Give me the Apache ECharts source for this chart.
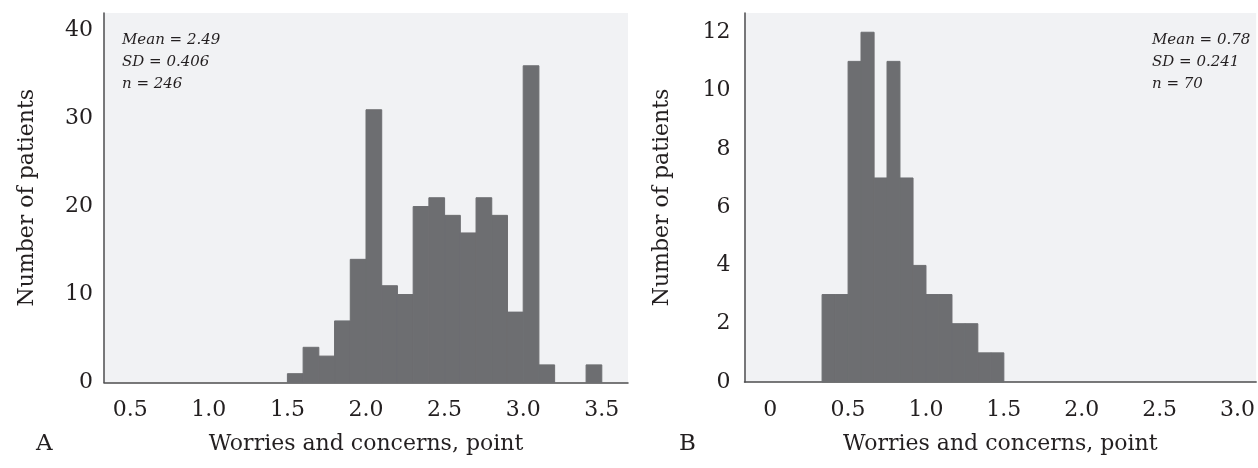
<!DOCTYPE html>
<html>
<head>
<meta charset="utf-8">
<script src="https://cdn.jsdelivr.net/npm/echarts@6/dist/echarts.min.js"></script>
<style>
html,body{margin:0;padding:0;background:#fff;}
#c{width:1258px;height:468px;}
</style>
</head>
<body>
<div id="c"></div>
<script>
// Panel A: bins (lower edge, upper edge) and counts
const binLoA = [1.5,1.6,1.7,1.8,1.9,2.0,2.1,2.2,2.3,2.4,2.5,2.6,2.7,2.8,2.9,3.0,3.1,3.4];
const binHiA = [1.6,1.7,1.8,1.9,2.0,2.1,2.2,2.3,2.4,2.5,2.6,2.7,2.8,2.9,3.0,3.1,3.2,3.5];
const countsA = [1,4,3,7,14,31,11,10,20,21,19,17,21,19,8,36,2,2];
// Panel B
const binLoB = [0.333,0.417,0.5,0.583,0.667,0.75,0.833,0.917,1.0,1.083,1.167,1.25,1.333,1.417];
const binHiB = [0.417,0.5,0.583,0.667,0.75,0.833,0.917,1.0,1.083,1.167,1.25,1.333,1.417,1.5];
const countsB = [3,3,11,12,7,11,7,4,3,3,2,2,1,1];
// Tick labels
const xTicksA = [0.5,1.0,1.5,2.0,2.5,3.0,3.5];
const xTicksB = [0,0.5,1.0,1.5,2.0,2.5,3.0];
const yTicksA = [0,10,20,30,40];
const yTicksB = [0,2,4,6,8,10,12];
const statsA = ['Mean = 2.49','SD = 0.406','n = 246'];
const statsB = ['Mean = 0.78','SD = 0.241','n = 70'];
const xTitle = 'Worries and concerns, point';
const yTitle = 'Number of patients';

const FONT = 'DejaVu Serif';
const TXT = '#231f20';
const BAR = '#6d6e71';
const BG = '#f1f2f4';
const AX = '#4d4d4f';

function rows(lo, hi, c){ return lo.map((v,i)=>[v, hi[i], c[i]]); }

function renderRect(params, api){
  const p0 = api.coord([api.value(0), 0]);
  const p1 = api.coord([api.value(1), api.value(2)]);
  return {
    type:'rect',
    shape:{x:p0[0], y:p1[1], width:p1[0]-p0[0], height:p0[1]-p1[1]},
    style:{fill:BAR, stroke:BAR, lineWidth:1}
  };
}

function fmtX(v){ return v === 0 ? '0' : v.toFixed(1); }

function xAxis(idx, min, max, ticks){
  return {
    type:'value', gridIndex:idx, min:min, max:max,
    axisLine:{show:true, onZero:false, lineStyle:{color:AX, width:1.5}},
    axisTick:{show:false},
    splitLine:{show:false},
    axisLabel:{customValues:ticks, formatter:fmtX, fontFamily:FONT, fontSize:22, color:TXT, margin:17},
    name:xTitle, nameLocation:'middle', nameGap:51,
    nameTextStyle:{fontFamily:FONT, fontSize:22, color:TXT}
  };
}
function yAxis(idx, max, ticks, margin, gap){
  return {
    type:'value', gridIndex:idx, min:0, max:max,
    axisLine:{show:true, onZero:false, lineStyle:{color:AX, width:1.5}},
    axisTick:{show:false},
    splitLine:{show:false},
    axisLabel:{customValues:ticks, fontFamily:FONT, fontSize:22, color:TXT, margin:margin},
    name:yTitle, nameLocation:'middle', nameGap:gap, nameRotate:90,
    nameTextStyle:{fontFamily:FONT, fontSize:22, color:TXT}
  };
}

function statText(lines, x){
  return lines.map((t,i)=>({
    type:'text', left:x, top:33 + i*21.7,
    style:{text:t, fontFamily:FONT, fontStyle:'italic', fontSize:15, fill:TXT}
  }));
}

const chart = echarts.init(document.getElementById('c'), null, {renderer:'canvas'});
chart.setOption({
  animation:false,
  grid:[
    {left:104, top:13, width:524, height:369.5, show:true, backgroundColor:BG, borderWidth:0},
    {left:744.5, top:13, right:0, height:369, show:true, backgroundColor:BG, borderWidth:0}
  ],
  xAxis:[ xAxis(0, 1/3, 11/3, xTicksA), xAxis(1, -0.165, 3.12, xTicksB) ],
  yAxis:[ yAxis(0, 42, yTicksA, 11, 66), yAxis(1, 12.66, yTicksB, 14, 71) ],
  series:[
    {type:'custom', xAxisIndex:0, yAxisIndex:0, renderItem:renderRect, encode:{x:[0,1], y:2}, data:rows(binLoA, binHiA, countsA)},
    {type:'custom', xAxisIndex:1, yAxisIndex:1, renderItem:renderRect, encode:{x:[0,1], y:2}, data:rows(binLoB, binHiB, countsB)}
  ],
  graphic:[
    ...statText(statsA, 122),
    ...statText(statsB, 1152),
    {type:'text', left:36, top:433, style:{text:'A', fontFamily:FONT, fontSize:23, fill:TXT}},
    {type:'text', left:679, top:433, style:{text:'B', fontFamily:FONT, fontSize:23, fill:TXT}}
  ]
});
</script>
</body>
</html>
